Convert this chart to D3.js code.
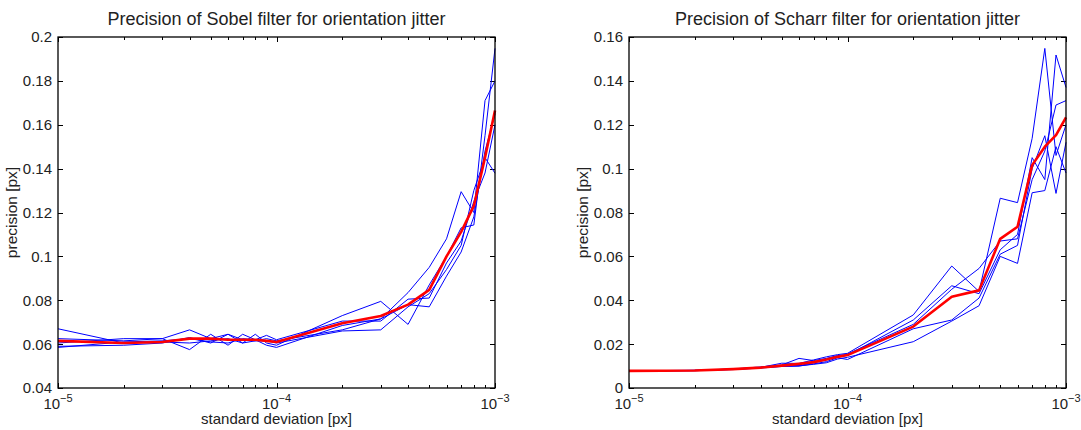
<!DOCTYPE html>
<html>
<head>
<meta charset="utf-8">
<script src="https://cdn.jsdelivr.net/npm/d3@7"></script>
<style>
  body { margin: 0; background: #fff; }
  text { font-family: "Liberation Sans", Arial, sans-serif; fill: #222; }
</style>
</head>
<body>
<div id="chart"></div>
<script>
// sample points: 1..9 x 1e-5, 1..9 x 1e-4, 1e-3
const sigma = [1e-5, 2e-5, 3e-5, 4e-5, 5e-5, 6e-5, 7e-5, 8e-5, 9e-5,
               1e-4, 2e-4, 3e-4, 4e-4, 5e-4, 6e-4, 7e-4, 8e-4, 9e-4, 1e-3];

const sobelRuns = [
  [0.0670, 0.0605, 0.0610, 0.0605, 0.0615, 0.0625, 0.0605, 0.0615, 0.0625, 0.0615, 0.0665, 0.0715, 0.0835, 0.0950, 0.1080, 0.1295, 0.1200, 0.1710, 0.1800],
  [0.0625, 0.0615, 0.0625, 0.0665, 0.0625, 0.0645, 0.0605, 0.0645, 0.0605, 0.0595, 0.0730, 0.0795, 0.0690, 0.0870, 0.1000, 0.1130, 0.1143, 0.1550, 0.1948],
  [0.0605, 0.0625, 0.0625, 0.0575, 0.0645, 0.0595, 0.0645, 0.0620, 0.0640, 0.0620, 0.0705, 0.0705, 0.0805, 0.0810, 0.0970, 0.1070, 0.1250, 0.1380, 0.1600],
  [0.0590, 0.0595, 0.0605, 0.0630, 0.0605, 0.0645, 0.0620, 0.0615, 0.0615, 0.0605, 0.0660, 0.0665, 0.0770, 0.0830, 0.0940, 0.1050, 0.1300, 0.1450, 0.1379],
  [0.0585, 0.0610, 0.0615, 0.0625, 0.0610, 0.0605, 0.0625, 0.0620, 0.0595, 0.0585, 0.0685, 0.0715, 0.0780, 0.0770, 0.0910, 0.1020, 0.1180, 0.1480, 0.1650]
];
const sobelMean = [0.0615, 0.0605, 0.0610, 0.0625, 0.0625, 0.0620, 0.0620, 0.0620, 0.0615, 0.0610, 0.0695, 0.0728, 0.0780, 0.0847, 0.1000, 0.1112, 0.1230, 0.1450, 0.1665];

const scharrRuns = [
  [0.0078, 0.0081, 0.0086, 0.0094, 0.0113, 0.0112, 0.0128, 0.0142, 0.0152, 0.0158, 0.0333, 0.0556, 0.0440, 0.0865, 0.0845, 0.1138, 0.1548, 0.1060, 0.1200],
  [0.0078, 0.0080, 0.0087, 0.0096, 0.0105, 0.0135, 0.0125, 0.0135, 0.0148, 0.0150, 0.0310, 0.0466, 0.0430, 0.0630, 0.0700, 0.1050, 0.0950, 0.1518, 0.1370],
  [0.0077, 0.0079, 0.0085, 0.0092, 0.0101, 0.0102, 0.0115, 0.0128, 0.0145, 0.0155, 0.0290, 0.0450, 0.0545, 0.0670, 0.0680, 0.0950, 0.1080, 0.1290, 0.1310],
  [0.0078, 0.0080, 0.0086, 0.0093, 0.0099, 0.0100, 0.0110, 0.0120, 0.0138, 0.0130, 0.0270, 0.0310, 0.0410, 0.0610, 0.0650, 0.1000, 0.1150, 0.0887, 0.1120],
  [0.0078, 0.0079, 0.0084, 0.0091, 0.0098, 0.0101, 0.0108, 0.0115, 0.0132, 0.0140, 0.0211, 0.0305, 0.0375, 0.0600, 0.0568, 0.0890, 0.0900, 0.1100, 0.0980]
];
const scharrMean = [0.0078, 0.0080, 0.0086, 0.0093, 0.0102, 0.0110, 0.0118, 0.0130, 0.0142, 0.0150, 0.0280, 0.0416, 0.0445, 0.0680, 0.0735, 0.1016, 0.1100, 0.1153, 0.1234];

const xMajor = [1e-5, 1e-4, 1e-3];
const xMajorLabels = ["-5", "-4", "-3"];
const sobelTicks = [0.04, 0.06, 0.08, 0.1, 0.12, 0.14, 0.16, 0.18, 0.2];
const scharrTicks = [0, 0.02, 0.04, 0.06, 0.08, 0.1, 0.12, 0.14, 0.16];

(() => {
  const panels = [
    { title: "Precision of Sobel filter for orientation jitter", left: 58, yDomain: [0.04, 0.2], yTicks: sobelTicks, runs: sobelRuns, mean: sobelMean },
    { title: "Precision of Scharr filter for orientation jitter", left: 629, yDomain: [0, 0.16], yTicks: scharrTicks, runs: scharrRuns, mean: scharrMean }
  ];

  const W = 1081, H = 430;
  const plotW = 437, plotTop = 37, plotBottom = 388;

  const svg = d3.select("#chart").append("svg").attr("width", W).attr("height", H);

  const minorTicks = [];
  [1e-5, 1e-4].forEach(d => { for (let k = 2; k <= 9; k++) minorTicks.push(d * k); });

  panels.forEach(p => {
    const x = d3.scaleLog().domain([1e-5, 1e-3]).range([p.left, p.left + plotW]);
    const y = d3.scaleLinear().domain(p.yDomain).range([plotBottom, plotTop]);
    const g = svg.append("g");

    // ticks, matlab style: inward on all four sides
    const tickG = g.append("g").attr("stroke", "#000").attr("stroke-width", 1);
    const ticks = [...xMajor.map(v => ({ v, len: 5 })), ...minorTicks.map(v => ({ v, len: 3 }))];
    ticks.forEach(t => {
      const px = Math.round(x(t.v)) + 0.5;
      tickG.append("line").attr("x1", px).attr("x2", px).attr("y1", plotBottom).attr("y2", plotBottom - t.len);
      tickG.append("line").attr("x1", px).attr("x2", px).attr("y1", plotTop).attr("y2", plotTop + t.len);
    });
    p.yTicks.forEach(v => {
      const py = Math.round(y(v)) + 0.5;
      tickG.append("line").attr("x1", p.left).attr("x2", p.left + 5).attr("y1", py).attr("y2", py);
      tickG.append("line").attr("x1", p.left + plotW).attr("x2", p.left + plotW - 5).attr("y1", py).attr("y2", py);
    });

    // data
    const line = d3.line().x((d, i) => x(sigma[i])).y(d => y(d));
    g.append("g").selectAll("path").data(p.runs).join("path")
      .attr("d", line).attr("fill", "none").attr("stroke", "#0000ff").attr("stroke-width", 1);
    g.append("path").datum(p.mean).attr("d", line)
      .attr("fill", "none").attr("stroke", "#ff0000").attr("stroke-width", 2.6).attr("stroke-linejoin", "round");

    // box
    g.append("rect").attr("x", p.left).attr("y", plotTop).attr("width", plotW).attr("height", plotBottom - plotTop)
      .attr("fill", "none").attr("stroke", "#000").attr("stroke-width", 1.3);

    // y tick labels
    g.append("g").selectAll("text").data(p.yTicks).join("text")
      .attr("x", p.left - 6).attr("y", d => y(d)).attr("dy", "0.36em")
      .attr("text-anchor", "end").style("font-size", "15px")
      .text(d => d3.format("~g")(d));

    // x tick labels 10^k
    xMajor.forEach((v, i) => {
      const t = g.append("text").attr("x", x(v)).attr("y", 409).attr("text-anchor", "middle").style("font-size", "15px");
      t.append("tspan").text("10");
      t.append("tspan").attr("dy", -7).style("font-size", "11px").text(xMajorLabels[i].replace("-", "\u2212"));
    });

    g.append("text").attr("x", p.left + plotW / 2).attr("y", 424).attr("text-anchor", "middle")
      .style("font-size", "15px").text("standard deviation [px]");

    g.append("text").attr("transform", `translate(${p.left - 41},${(plotTop + plotBottom) / 2}) rotate(-90)`)
      .attr("text-anchor", "middle").style("font-size", "15.5px").text("precision [px]");

    g.append("text").attr("x", p.left + plotW / 2).attr("y", 25).attr("text-anchor", "middle")
      .style("font-size", "18px").text(p.title);
  });
})();
</script>
</body>
</html>
